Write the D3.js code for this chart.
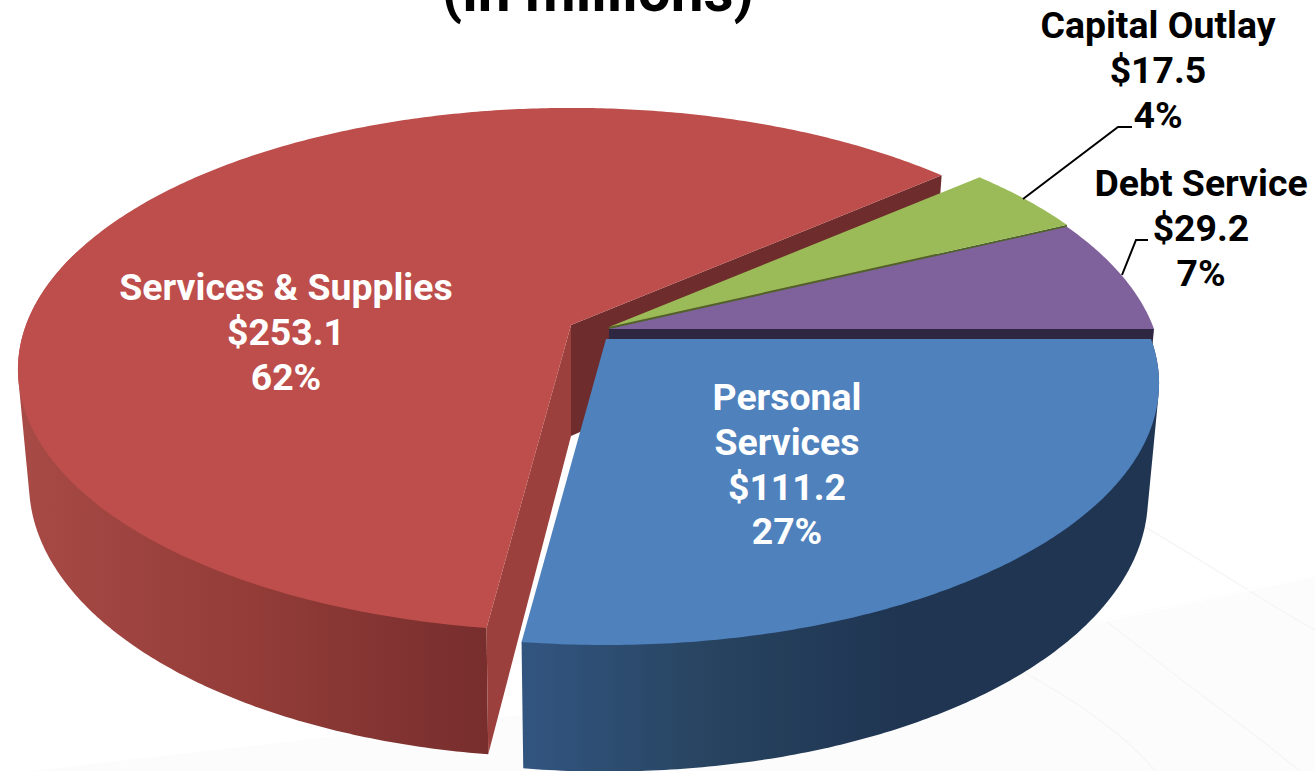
<!DOCTYPE html>
<html>
<head>
<meta charset="utf-8">
<script src="https://d3js.org/d3.v7.min.js"></script>
<style>
  body { margin: 0; background: #fff; overflow: hidden; }
  text { font-family: Roboto, sans-serif; font-weight: 700; }
</style>
</head>
<body>
<div id="chart"></div>
<script>
const categories = ["Personal Services", "Services & Supplies", "Capital Outlay", "Debt Service"];
const amounts = [111.2, 253.1, 17.5, 29.2];
const amountLabels = ["$111.2", "$253.1", "$17.5", "$29.2"];
const percentLabels = ["27%", "62%", "4%", "7%"];

const width = 1315, height = 771;

// look of the slices, same order as categories
const topColors = ["#4f81bd", "#bd4e4b", "#9bbb59", "#7f619c"];
const wallColors = ["#1f3552", "#6f2c2c", "#4f6228", "#2f2642"];
const sideColors = ["#1f3552", "#9b403d", "#4f6228", "#2f2642"];
const apexes = [[606, 339], [571, 325], [609, 327], [609, 329]];

// fake 3d: circle on a tilted plane, with a little perspective
const radiusX = 545, radiusY = 254, perspective = 0.17;
const depth = 111, depthGrow = 0.14, taper = 0.98;

const svg = d3.select("#chart").append("svg")
  .attr("width", width)
  .attr("height", height);

// very faint floor behind the pie
const floor = svg.append("g").attr("fill", "none");
floor.append("path")
  .attr("d", "M30,771L520,715L1100,620L1315,575L1315,771Z")
  .attr("fill", "#fcfcfc");
[
  "M1115,510C1180,545 1260,600 1315,630",
  "M1105,620C1180,680 1250,730 1300,771",
  "M1000,660C1080,700 1130,740 1155,771",
  "M1100,622L1315,576"
].forEach((d, i) => {
  floor.append("path")
    .attr("d", d)
    .attr("stroke", i == 3 ? "#ffffff" : "#f6f6f6")
    .attr("stroke-width", 1.5);
});

const defs = svg.append("defs");
function wallGradient(id, x1, x2, stops) {
  const g = defs.append("linearGradient")
    .attr("id", id)
    .attr("gradientUnits", "userSpaceOnUse")
    .attr("x1", x1).attr("x2", x2).attr("y1", 0).attr("y2", 0);
  stops.forEach(s => g.append("stop").attr("offset", s[0]).attr("stop-color", s[1]));
}
wallGradient("blueWall", 523, 1000, [[0, "#325580"], [0.4, "#27435f"], [0.8, "#1f3552"], [1, "#1f3552"]]);
wallGradient("redWall", 20, 486, [[0, "#a84a46"], [0.5, "#933c38"], [1, "#772e2d"]]);

const pie = d3.pie()
  .sort(null)
  .startAngle(Math.PI / 2)
  .endAngle(Math.PI / 2 + 2 * Math.PI);
const slices = pie(amounts);

function topPoint(angle, apex) {
  const ux = Math.sin(angle), uy = -Math.cos(angle);
  const s = 1 / (1 - perspective * uy);
  return [apex[0] + radiusX * ux * s, apex[1] + radiusY * uy * s];
}

function bottomPoint(angle, apex) {
  const p = topPoint(angle, apex);
  const uy = -Math.cos(angle);
  return [apex[0] + (p[0] - apex[0]) * taper, p[1] + depth * (1 + depthGrow * uy)];
}

function arcAngles(a0, a1) {
  const n = Math.ceil(Math.abs(a1 - a0) / 0.01);
  return d3.range(n + 1).map(i => a0 + (a1 - a0) * i / n);
}

const line = d3.line();

function topFace(d, apex) {
  return line([apex].concat(arcAngles(d.startAngle, d.endAngle).map(a => topPoint(a, apex)))) + "Z";
}

// hull so the silhouette runs straight from top rim to bottom rim, the top face hides the rest
function outerWall(a0, a1, apex) {
  const angles = arcAngles(a0, a1);
  const pts = angles.map(a => topPoint(a, apex)).concat(angles.map(a => bottomPoint(a, apex)));
  return line(d3.polygonHull(pts)) + "Z";
}

function radialWall(angle, apex) {
  const low = [apex[0], apex[1] + depth];
  return line([apex, topPoint(angle, apex), bottomPoint(angle, apex), low]) + "Z";
}

const chart = svg.append("g");

// red is at the back, so it goes first
const red = slices[1];
chart.append("path")
  .attr("d", outerWall(red.startAngle, red.startAngle + 1.75, apexes[1]))
  .attr("fill", "url(#redWall)");
chart.append("path")
  .attr("d", radialWall(red.endAngle, apexes[1]))
  .attr("fill", wallColors[1]);
chart.append("path")
  .attr("d", radialWall(red.startAngle, apexes[1]))
  .attr("fill", sideColors[1]);
chart.append("path")
  .attr("d", topFace(red, apexes[1]))
  .attr("fill", topColors[1]);

// green
chart.append("path")
  .attr("d", radialWall(slices[2].endAngle, apexes[2]))
  .attr("fill", wallColors[2]);
chart.append("path")
  .attr("d", topFace(slices[2], apexes[2]))
  .attr("fill", topColors[2]);

// purple
chart.append("path")
  .attr("d", radialWall(slices[3].endAngle, apexes[3]))
  .attr("fill", wallColors[3]);
chart.append("path")
  .attr("d", topFace(slices[3], apexes[3]))
  .attr("fill", topColors[3]);

// blue
chart.append("path")
  .attr("d", outerWall(slices[0].startAngle, slices[0].endAngle, apexes[0]))
  .attr("fill", "url(#blueWall)");
chart.append("path")
  .attr("d", topFace(slices[0], apexes[0]))
  .attr("fill", topColors[0]);

// title, cut off by the top of the picture
svg.append("text")
  .attr("x", 598)
  .attr("y", 11)
  .attr("text-anchor", "middle")
  .attr("font-size", 58.5)
  .attr("fill", "#000")
  .text("(in millions)");

// leader lines
const leaders = [
  [[1023, 199], [1118, 127], [1132, 127]],
  [[1122, 275], [1136, 240], [1148, 240]]
];
svg.selectAll(".leader")
  .data(leaders)
  .enter()
  .append("path")
  .attr("class", "leader")
  .attr("d", line)
  .attr("fill", "none")
  .attr("stroke", "#000")
  .attr("stroke-width", 2);

// labels: x, first baseline, colour
const labelPos = [[787, 410, "#fff"], [286, 300, "#fff"], [1158, 38, "#000"], [1201, 196, "#000"]];
const labelLines = [
  ["Personal", "Services", amountLabels[0], percentLabels[0]],
  [categories[1], amountLabels[1], percentLabels[1]],
  [categories[2], amountLabels[2], percentLabels[2]],
  [categories[3], amountLabels[3], percentLabels[3]]
];
const lineStep = 44.8;

const labels = svg.selectAll(".label")
  .data(labelLines)
  .enter()
  .append("text")
  .attr("class", "label")
  .attr("text-anchor", "middle")
  .attr("font-size", 37.4)
  .attr("fill", (d, i) => labelPos[i][2]);

labels.selectAll("tspan")
  .data((d, i) => d.map((t, j) => ({ t: t, x: labelPos[i][0], y: labelPos[i][1] + j * lineStep })))
  .enter()
  .append("tspan")
  .attr("x", d => d.x)
  .attr("y", d => d.y)
  .text(d => d.t);
</script>
</body>
</html>
